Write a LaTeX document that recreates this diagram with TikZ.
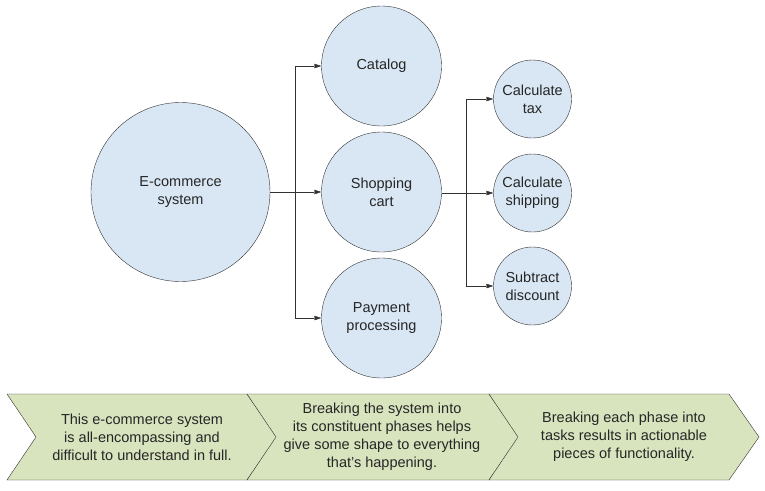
\documentclass[tikz,border=0pt]{standalone}
\usepackage{fontspec}
\setmainfont{Liberation Sans}
\usetikzlibrary{arrows.meta}
\definecolor{circfill}{RGB}{217,231,244}
\definecolor{chevfill}{RGB}{216,228,190}
\definecolor{edge}{RGB}{50,50,50}
\begin{document}
\begin{tikzpicture}[x=1pt,y=-1pt,
   every node/.style={font=\fontsize{14.5}{18}\selectfont, align=center, text=black!85},
   ring/.style={circle, draw=edge, fill=circfill, inner sep=0pt},
   bigc/.style={ring, minimum size=179pt},
   midc/.style={ring, minimum size=120pt},
   smallc/.style={ring, minimum size=78pt},
   conn/.style={draw=edge, -{Triangle[length=7pt,width=4.5pt]}},
   chev/.style={draw=edge, fill=chevfill}]
\useasboundingbox (0,0) rectangle (765,490);

\node[bigc] (eco) at (180.5,192) {E-commerce\\system};
\node[midc] (cat) at (381.5,66) {Catalog};
\node[midc] (cart) at (381.5,192) {Shopping\\cart};
\node[midc] (pay) at (381.5,318) {Payment\\processing};
\node[smallc] (tax) at (532.5,99) {Calculate\\tax};
\node[smallc] (ship) at (532.5,193) {Calculate\\shipping};
\node[smallc] (disc) at (532.5,286) {Subtract\\discount};

\coordinate (j1) at (295,192);
\coordinate (j2) at (466,193);
\draw[conn] (eco) -- (cart);
\draw[conn] (j1) |- (cat);
\draw[conn] (j1) |- (pay);
\draw[conn] (cart.east |- j2) -- (ship);
\draw[conn] (j2) |- (tax);
\draw[conn] (j2) |- (disc);

% phases
\foreach \l/\r in {7/247, 247/489, 489/729}
  \draw[chev] (\l,394) -- (\r,394) -- (\r+30,437) -- (\r,480) -- (\l,480) -- (\l+29,437) -- cycle;

\node (whole) at (142,437) {This e-commerce system\\is all-encompassing and\\difficult to understand in full.};
\node (phases) at (382,437) {Breaking the system into\\its constituent phases helps\\give some shape to everything\\that’s happening.};
\node (tasks) at (624,437) {Breaking each phase into\\tasks results in actionable\\pieces of functionality.};

\end{tikzpicture}
\end{document}
